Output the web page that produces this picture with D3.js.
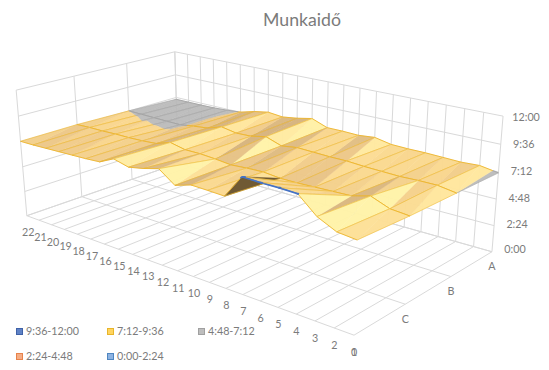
<!DOCTYPE html>
<html><head><meta charset="utf-8">
<script src="https://cdnjs.cloudflare.com/ajax/libs/d3/7.8.5/d3.min.js"></script>
<style>html,body{margin:0;background:#fff}svg{display:block}text{font-family:Lato,"Open Sans",sans-serif;fill:#7b7b7b}</style>
</head><body><svg id="c" width="549" height="370"></svg>
<script>
const title = "Munkaidő";
const days = [22,21,20,19,18,17,16,15,14,13,12,11,10,9,8,7,6,5,4,3,2,1];
const extraDayLabel = "0";
const depthRows = ["", "C", "B", "A"];
const valueTicks = ["0:00","2:24","4:48","7:12","9:36","12:00"];
const valueTickHours = [0,2.4,4.8,7.2,9.6,12];
const rowFront = [7.24,7.25,7.3,7.35,7.4,7.45,7.54,8.18,7.83,8.1,8.47,7.45,7.89,7.85,7.79,9.75,9.7,9.7,9.65,8.32,7.6,7.45];
const rowC = [7.3,7.35,7.35,7.4,7.4,7.45,7.55,8.0,7.7,7.7,7.6,7.45,7.55,7.6,7.45,7.45,7.5,7.55,7.6,8.0,7.4,7.26];
const rowB = [7.2,7.18,7.15,7.12,7.1,7.3,7.45,7.9,7.65,7.7,8.0,7.5,7.7,7.65,7.6,7.6,7.5,7.45,7.4,7.45,7.45,7.2];
const rowA = [7.0,7.0,7.0,7.02,7.1,7.22,7.6,7.85,7.7,7.9,8.2,7.65,7.65,7.6,7.75,7.45,7.4,7.4,7.35,7.3,7.38,7.12];
const legendLabels = ["9:36-12:00","7:12-9:36","4:48-7:12","2:24-4:48","0:00-2:24"];
const legendFills = ["#5f82c6","#ffd45f","#bdbdbd","#f5ad85","#8db3e2"];
const legendStrokes = ["#3f62a8","#e8b52a","#a0a0a0","#e8824a","#4f86c0"];

const grid = [rowFront,rowC,rowB,rowA];
const uS = d3.scalePoint(days,[1,0]);
const vS = d3.scalePoint(depthRows,[0,1]);
const wS = d3.scaleLinear([0,12],[0,1]);

// camera fitted from the box corners of the picture
const anchors = [[1,0,0,27,216],[0,0,0,354,335],[0,1,0,492,252],[1,1,0,178,163],[1,0,1,16,90],[1,1,1,175,52],[0,1,1,503,116]];
function fitCamera(a){
  const A=[],b=[];
  a.forEach(([u,v,w,x,y])=>{
    A.push([u,v,w,1,0,0,0,0,-x*u,-x*v,-x*w]);b.push(x);
    A.push([0,0,0,0,u,v,w,1,-y*u,-y*v,-y*w]);b.push(y);
  });
  const n=11,M=d3.range(n).map(i=>d3.range(n+1).map(j=>{
    let s=0;A.forEach((r,k)=>{s+=r[i]*(j<n?r[j]:b[k]);});return s;}));
  for(let c=0;c<n;c++){
    let p=c;for(let r=c+1;r<n;r++)if(Math.abs(M[r][c])>Math.abs(M[p][c]))p=r;
    [M[c],M[p]]=[M[p],M[c]];
    for(let r=0;r<n;r++)if(r!==c){const f=M[r][c]/M[c][c];for(let k=c;k<=n;k++)M[r][k]-=f*M[c][k];}
  }
  return M.map((r,i)=>r[n]/r[i]);
}
const P=fitCamera(anchors);
const pr=(u,v,w)=>{const d=P[8]*u+P[9]*v+P[10]*w+1;return [(P[0]*u+P[1]*v+P[2]*w+P[3])/d,(P[4]*u+P[5]*v+P[6]*w+P[7])/d];};
const pz=(u,v,h)=>pr(u,v,wS(h));

const svg=d3.select("#c");
const line=d3.line();
const fitFont=(sel,target)=>{sel.style("font-size","20px");const w=sel.node().getComputedTextLength();const fs=20*target/w;sel.style("font-size",fs+"px");return fs;};
const tt=svg.append("text").text(title).attr("x",302).attr("y",26).attr("text-anchor","middle");
fitFont(tt,78);
const probe=svg.append("text").text(legendLabels[0]);
const smallFont=fitFont(probe,53);probe.remove();

// walls and floor
const gl=svg.append("g").attr("fill","none").attr("stroke","#d9d9d9").attr("stroke-width",1);
const seg=(a,b)=>gl.append("path").attr("d",line([a,b]));
days.forEach(d=>{const u=uS(d);seg(pr(u,0,0),pr(u,1,0));seg(pr(u,1,0),pr(u,1,1));});
depthRows.forEach(r=>{const v=vS(r);seg(pr(0,v,0),pr(1,v,0));seg(pr(1,v,0),pr(1,v,1));});
valueTickHours.forEach(h=>{seg(pz(1,0,h),pz(1,1,h));seg(pz(1,1,h),pz(0,1,h));});

// surface
const bands=[[0,2.4,"#8db3e2","#5b9bd5"],[2.4,4.8,"#f5ad85","#ed7d31"],[4.8,7.2,"#b9b9b9","#a3a3a3"],[7.2,9.6,"#f9d58c","#ecb52c"],[9.6,12,"#5f82c6","#4472c4"]];
const ramp=d3.scaleLinear([-1,-.35,0,.5,1],["#d6b37c","#eac586","#f9d58c","#ffe59b","#fff2a8"]).clamp(true);
function clip(poly,lo,hi){
  const cut=(pts,keep,t)=>{const o=[];pts.forEach((a,i)=>{const b=pts[(i+1)%pts.length];
    const ka=keep(a[2]),kb=keep(b[2]);
    if(ka)o.push(a);
    if(ka!==kb){const f=(t-a[2])/(b[2]-a[2]);o.push([a[0]+f*(b[0]-a[0]),a[1]+f*(b[1]-a[1]),t]);}});return o;};
  let p=cut(poly,z=>z>=lo,lo);if(p.length)p=cut(p,z=>z<=hi,hi);return p;
}
function area(pts){let s=0;pts.forEach((a,i)=>{const b=pts[(i+1)%pts.length];s+=a[0]*b[1]-b[0]*a[1];});return s/2;}
const sg=svg.append("g");
const nr=grid.length,nc=days.length;
for(let r=nr-2;r>=0;r--){
  for(let c=0;c<nc-1;c++){
    const V=(ci,ri)=>[uS(days[ci]),vS(depthRows[ri]),grid[ri][ci]];
    const a=V(c,r),b=V(c+1,r),e=V(c+1,r+1),f=V(c,r+1);
    [[f,b,e],[f,a,b]].forEach(t=>{
      const p=t.map(q=>pz(q[0],q[1],q[2]));
      const ref=area(t.map(q=>pz(q[0],q[1],7)));
      const flipped=(area(p)>0)!==(ref>0);
      const [t0,t1,t2]=t;
      const du1=(t1[0]-t0[0])*21,dv1=(t1[1]-t0[1])*3,dz1=t1[2]-t0[2];
      const du2=(t2[0]-t0[0])*21,dv2=(t2[1]-t0[1])*3,dz2=t2[2]-t0[2];
      const det=du1*dv2-du2*dv1;
      const dzdu=(dz1*dv2-dz2*dv1)/det,dzdv=(du1*dz2-du2*dz1)/det;
      const s=dzdu*2.2-Math.max(dzdv,0)*2;
      bands.forEach(bd=>{
        const pl=clip(t,bd[0],bd[1]);
        if(pl.length<3)return;
        const isY=bd[0]===7.2;
        const col=flipped?"#6a5430":(isY?ramp(s):bd[2]);
        sg.append("path").attr("d",line(pl.map(q=>pz(q[0],q[1],q[2])))+"Z")
          .attr("fill",col).attr("stroke",col).attr("stroke-width",.4).attr("fill-opacity",isY?.96:.92);
      });
    });
    [[a,b,.9],[f,a,.5],[b,e,.5],[f,e,.9]].forEach(([m,n,op])=>{
      bands.forEach(bd=>{
        const lo=Math.max(bd[0],Math.min(m[2],n[2])),hi=Math.min(bd[1],Math.max(m[2],n[2]));
        if(hi<lo)return;
        const at=z=>{const k=(n[2]===m[2])?0:(z-m[2])/(n[2]-m[2]);return pz(m[0]+k*(n[0]-m[0]),m[1]+k*(n[1]-m[1]),z);};
        const flat=n[2]===m[2];
        sg.append("path").attr("d",line(flat?[pz(m[0],m[1],m[2]),pz(n[0],n[1],n[2])]:[at(lo),at(hi)]))
          .attr("fill","none").attr("stroke",bd[3]).attr("stroke-width",bd[0]===9.6?1.6:1).attr("stroke-opacity",bd[0]===9.6?1:op);
      });
    });
  }
}

// axis labels
const lab=(t,x,y,a)=>svg.append("text").text(t).attr("x",x).attr("y",y).attr("text-anchor",a||"middle").attr("dy",".35em").style("font-size",smallFont+"px");
days.forEach(d=>{const u=uS(d),q=pr(u,0,0);lab(d,q[0]+1.5*u,q[1]+17);});
const q0=pr(0,0,0);lab(extraDayLabel,q0[0],q0[1]+17);
depthRows.filter(r=>r).forEach(r=>{const q=pr(0,vS(r),0);lab(r,q[0],q[1]+15);});
valueTicks.forEach((t,i)=>{const w=wS(valueTickHours[i]),q=pz(0,1,valueTickHours[i]);lab(t,q[0]+23,q[1]-2+3*w);});

// legend
const legendX=d3.scalePoint(d3.range(3),[16,198]);
const legendY=d3.scalePoint(d3.range(2),[328,353]);
legendLabels.forEach((t,i)=>{
  const x=legendX(i%3),y=legendY(Math.floor(i/3));
  svg.append("rect").attr("x",x+.5).attr("y",y+.5).attr("width",6).attr("height",6).attr("fill",legendFills[i]).attr("stroke",legendStrokes[i]);
  lab(t,x+10,y+3.5,"start");
});
</script></body></html>
